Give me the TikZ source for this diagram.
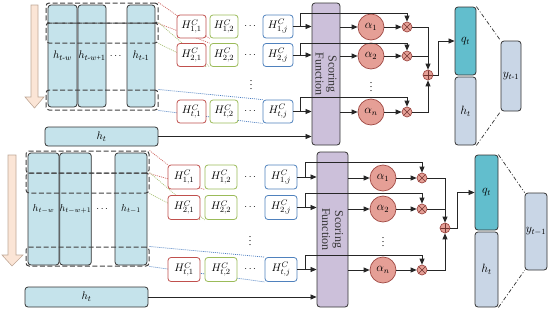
\documentclass[tikz,border=0pt]{standalone}
\usepackage{amsmath}
\usepackage{fontspec}
\setmainfont{Liberation Serif}
\usetikzlibrary{arrows.meta,calc,backgrounds}
\definecolor{colblue}{HTML}{C5E3EB}
\definecolor{qfill}{HTML}{62BECD}
\definecolor{hfill}{HTML}{C9D6E6}
\definecolor{scorefill}{HTML}{CCC0DA}
\definecolor{alphafill}{HTML}{E59F96}
\definecolor{alphadraw}{HTML}{A04A45}
\definecolor{arrfill}{HTML}{FBE5D6}
\definecolor{arrdraw}{HTML}{BFA796}
\definecolor{hred}{HTML}{C0504D}
\definecolor{hgreen}{HTML}{9BBB59}
\definecolor{hblue}{HTML}{4F81BD}
\definecolor{lnred}{HTML}{D06A66}
\definecolor{lngreen}{HTML}{A9C278}
\definecolor{lnblue}{HTML}{4A7CC0}
\begin{document}
\begin{tikzpicture}[x=1pt,y=-1pt,
  colbox/.style={draw=black!80, fill=colblue, rounded corners=3pt, line width=0.8pt, inner sep=0pt, font=\fontsize{11}{12}\selectfont},
  winbox/.style={draw=black!75, dash pattern=on 5pt off 2.5pt, rounded corners=3pt, line width=1pt, inner sep=0pt},
  hbox/.style={rounded corners=3pt, fill=white, line width=0.8pt, inner sep=0pt, font=\fontsize{11}{12}\selectfont},
  bigarrow/.style={fill=arrfill, draw=arrdraw, line width=0.6pt},
  score/.style={draw=black!80, fill=scorefill, rounded corners=3pt, line width=0.8pt, inner sep=0pt},
  scoretext/.style={rotate=-90, align=center, font=\fontsize{12}{13}\selectfont, text=black!80},
  alphanode/.style={circle, draw=alphadraw, fill=alphafill, line width=0.7pt, minimum size=26pt, inner sep=0pt, font=\fontsize{12}{13}\selectfont},
  mult/.style={circle, draw=alphadraw, fill=alphafill, line width=0.7pt, minimum size=10pt, inner sep=0pt,
    path picture={\draw[line width=0.7pt, alphadraw!70!black] (path picture bounding box.north west) -- (path picture bounding box.south east) (path picture bounding box.north east) -- (path picture bounding box.south west);}},
  plusnode/.style={circle, draw=alphadraw, fill=alphafill, line width=0.7pt, minimum size=10pt, inner sep=0pt,
    path picture={\draw[line width=0.7pt, alphadraw!70!black] (path picture bounding box.north) -- (path picture bounding box.south) (path picture bounding box.east) -- (path picture bounding box.west);}},
  qbox/.style={draw=black!80, fill=qfill, rounded corners=3pt, line width=0.8pt, inner sep=0pt, font=\fontsize{12}{13}\selectfont},
  lbox/.style={draw=black!80, fill=hfill, rounded corners=3pt, line width=0.8pt, inner sep=0pt, font=\fontsize{12}{13}\selectfont},
  arr/.style={-{Triangle[length=6pt,width=5pt]}, line width=0.75pt, black!85},
  ln/.style={line width=0.75pt, black!85},
  dline/.style={dash pattern=on 1pt off 1pt, line width=0.7pt},
  ddline/.style={dash pattern=on 4pt off 2pt on 1pt off 2pt, line width=0.7pt, black!80},
  dotsnode/.style={inner sep=0pt, font=\fontsize{10}{11}\selectfont}
]
\useasboundingbox (0,0) rectangle (550,311);

%================ TOP PANEL ================
\draw[bigarrow] (31,5) -- (38,5) -- (38,97) -- (44,97) -- (34.5,108) -- (25,97) -- (31,97) -- cycle;
\node[colbox, minimum width=29, minimum height=102] (ac1) at (62.5,56) {$h_{t\text{-}w}$};
\node[colbox, minimum width=28, minimum height=102] (ac2) at (92,56) {$h_{t\text{-}w\text{+}1}$};
\node[dotsnode] (acd) at (116.5,56) {$\cdots$};
\node[colbox, minimum width=28, minimum height=102] (ac3) at (141,56) {$h_{t\text{-}1}$};
\node[winbox, minimum width=112, minimum height=20] (aw1) at (102,13) {};
\node[winbox, minimum width=112, minimum height=20] (aw2) at (102,33) {};
\node[winbox, minimum width=112, minimum height=20] (aw3) at (102,100) {};
\node[colbox, minimum width=113, minimum height=19] (aht) at (101.5,136.5) {$h_t$};

\foreach \r/\y/\s in {1/26.5/1, 2/55/2, 3/111.5/t}{
  \node[hbox, draw=hred, minimum width=29, minimum height=23] (ah\r1) at (191.5,\y) {$H^{C}_{\s,1}$};
  \node[hbox, draw=hgreen, minimum width=28, minimum height=23] (ah\r2) at (224,\y) {$H^{C}_{\s,2}$};
  \node[dotsnode] (ahd\r) at (251,\y) {$\cdots$};
  \node[hbox, draw=hblue, minimum width=30, minimum height=23] (ah\r j) at (278,\y) {$H^{C}_{\s,j}$};
}
\node[dotsnode] (ahv) at (251,82) {$\vdots$};

\begin{scope}[on background layer]
  \draw[dline, lnred] (aw1.north east) -- (ah12.south west);
  \draw[dline, lnred] (aw1.south east) -- (ah22.north west);
  \draw[dline, lngreen] (aw2.north east) -- (ah22.south west);
  \draw[dline, lngreen] (aw2.south east) -- (ah21.south east);
  \draw[dline, lnblue] (aw3.north east) -- (ah3j.north west);
  \draw[dline, lnblue] (aw3.south east) -- (ah3j.south west);
\end{scope}

\node[score, minimum width=28, minimum height=142] (asf) at (326,74) {};
\node[scoretext] (asft) at (asf.center) {Scoring\\Function};

\node[alphanode] (aa1) at (371,27) {$\alpha_1$};
\node[alphanode] (aa2) at (371,56) {$\alpha_2$};
\node[alphanode] (aa3) at (371,112) {$\alpha_n$};
\node[dotsnode] (aav) at (371,84) {$\vdots$};
\node[mult] (am1) at (407,27) {};
\node[mult] (am2) at (407,56) {};
\node[mult] (am3) at (407,112) {};
\node[plusnode] (ap) at (428,75) {};

\foreach \r/\t in {1/13, 2/43, 3/97}{
  \coordinate (ab\r) at ($(ah\r j.east)+(7,0)$);
  \coordinate (at\r) at (ab\r |- 0,\t);
  \draw[arr] (ah\r j.east) -- (ah\r j.east -| asf.west);
  \draw[arr] (ab\r) -- (at\r) -| (am\r.north);
  \draw[arr] (asf.east |- aa\r) -- (aa\r.west);
  \draw[arr] (aa\r) -- (am\r);
}
\draw[arr] (am1) -| (ap);
\draw[ln] (am2.east) -- (am2.east -| ap.center);
\draw[arr] (am3) -| (ap);
\draw[arr] (aht.east) -- (aht.east -| asf.west);

\node[qbox, minimum width=21, minimum height=68] (aq) at (465.5,41) {$q_t$};
\node[lbox, minimum width=21, minimum height=68] (ahh) at (465.5,111) {$h_t$};
\node[lbox, minimum width=20, minimum height=70] (ay) at (511,76) {$y_{t\text{-}1}$};
\draw[arr] (ap.east) -- ($(ap.east)+(5,0)$) |- (aq.west);
\draw[ddline] (aq.north east) -- (ay.north west);
\draw[ddline] (ahh.south east) -- (ay.south west);

%================ BOTTOM PANEL ================
\draw[bigarrow] (8,155) -- (16,155) -- (16,255) -- (23,255) -- (12,266) -- (2,255) -- (8,255) -- cycle;
\node[colbox, font=\fontsize{10}{11}\selectfont, minimum width=31, minimum height=112] (bc1) at (43.5,209) {$h_{t-w}$};
\node[colbox, font=\fontsize{10}{11}\selectfont, minimum width=31, minimum height=112] (bc2) at (75.5,209) {$h_{t-w+1}$};
\node[dotsnode] (bcd) at (103,209) {$\cdots$};
\node[colbox, font=\fontsize{10}{11}\selectfont, minimum width=32, minimum height=112] (bc3) at (131,209) {$h_{t-1}$};
\node[winbox, minimum width=123, minimum height=22] (bw1) at (87.5,162) {};
\node[winbox, minimum width=123, minimum height=20] (bw2) at (87.5,183) {};
\node[winbox, minimum width=123, minimum height=19] (bw3) at (87.5,256.5) {};
\node[colbox, minimum width=123, minimum height=20] (bht) at (86.5,297) {$h_t$};

\foreach \r/\y/\s in {1/177/1, 2/207.5/2, 3/269.5/t}{
  \node[hbox, draw=hred, minimum width=32, minimum height=24] (bh\r1) at (184,\y) {$H^{C}_{\s,1}$};
  \node[hbox, draw=hgreen, minimum width=32, minimum height=24] (bh\r2) at (221,\y) {$H^{C}_{\s,2}$};
  \node[dotsnode] (bhd\r) at (251,\y) {$\cdots$};
  \node[hbox, draw=hblue, minimum width=32, minimum height=24] (bh\r j) at (281,\y) {$H^{C}_{\s,j}$};
}
\node[dotsnode] (bhv) at (250,238) {$\vdots$};

\begin{scope}[on background layer]
  \draw[dline, lnred] (bw1.north east) -- (bh11.north west);
  \draw[dline, lnred] (bw1.south east) -- (bh12.south west);
  \draw[dline, lngreen] (bw2.north east) -- (bh22.south west);
  \draw[dline, lngreen] (bw2.south east) -- (bh21.south east);
  \draw[dline, lnblue] (bw3.north east) -- (bh3j.north west);
  \draw[dline, lnblue] (bw3.south east) -- (bh3j.south west);
\end{scope}

\node[score, minimum width=31, minimum height=155] (bsf) at (332.5,229.5) {};
\node[scoretext] (bsft) at (bsf.center) {Scoring\\Function};

\node[alphanode] (ba1) at (383,178) {$\alpha_1$};
\node[alphanode] (ba2) at (383,209) {$\alpha_2$};
\node[alphanode] (ba3) at (383,270) {$\alpha_n$};
\node[dotsnode] (bav) at (383,239) {$\vdots$};
\node[mult] (bm1) at (422,178) {};
\node[mult] (bm2) at (422,209) {};
\node[mult] (bm3) at (422,270) {};
\node[plusnode] (bp) at (445,228) {};

\foreach \r/\t in {1/162, 2/193, 3/255}{
  \coordinate (bb\r) at ($(bh\r j.east)+(8,0)$);
  \coordinate (bt\r) at (bb\r |- 0,\t);
  \draw[arr] (bh\r j.east) -- (bh\r j.east -| bsf.west);
  \draw[arr] (bb\r) -- (bt\r) -| (bm\r.north);
  \draw[arr] (bsf.east |- ba\r) -- (ba\r.west);
  \draw[arr] (ba\r) -- (bm\r);
}
\draw[arr] (bm1) -| (bp);
\draw[ln] (bm2.east) -- (bm2.east -| bp.center);
\draw[arr] (bm3) -| (bp);
\draw[arr] (bht.east) -- (bht.east -| bsf.west);

\node[qbox, minimum width=23, minimum height=75] (bq) at (486.5,192.5) {$q_t$};
\node[lbox, minimum width=23, minimum height=75] (bhh) at (486.5,269.5) {$h_t$};
\node[lbox, minimum width=22, minimum height=77] (by) at (536,231.5) {$y_{t-1}$};
\draw[arr] (bp.east) -- ($(bp.east)+(7,0)$) |- (bq.west);
\draw[ddline] (bq.north east) -- (by.north west);
\draw[ddline] (bhh.south east) -- (by.south west);
\end{tikzpicture}
\end{document}
